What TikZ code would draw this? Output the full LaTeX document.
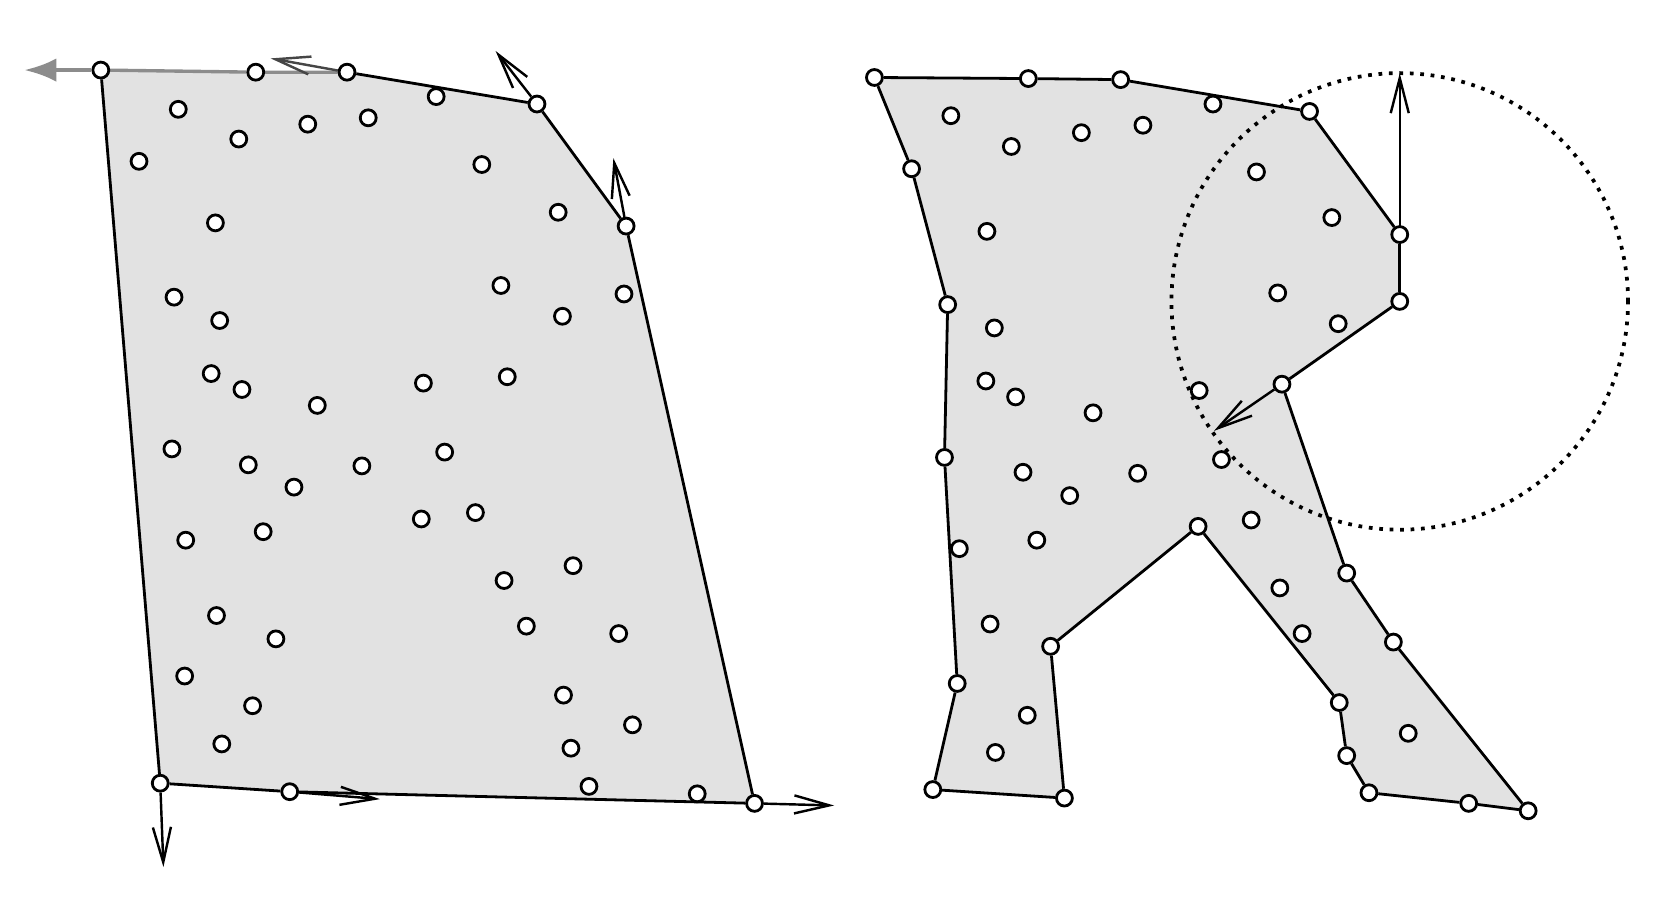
\documentclass[tikz,border=0pt]{standalone}
\usepackage{tikz}
\usetikzlibrary{arrows.meta,backgrounds}
\definecolor{hullgray}{HTML}{E2E2E2}
\definecolor{seekgray}{HTML}{8C8C8C}

\begin{document}
\begin{tikzpicture}[
  x=0.01cm, y=-0.01cm,
  pnt/.style={draw, circle, fill=white, inner sep=0pt, minimum size=0.15cm, line width=0.75pt},
  hull/.style={line width=0.75pt},
  arr/.style={-{Straight Barb[length=3.3mm,width=1.7mm]}, line width=0.65pt},
  seek/.style={seekgray, line width=0.9pt}
]
  \useasboundingbox (0,0) rectangle (1568,847);

  % left: convex hull
  \foreach \x/\y [count=\i] in {95/66,241/68,327/68,506/98,590/213,711/757,273/746,151/738}
    \node[pnt] (h\i) at (\x,\y) {};
  \foreach \x/\y [count=\i] in {168/103,225/131,290/117,347/111,411/91,131/152,454/155,203/210,
      526/200,164/280,207/302,472/269,530/298,588/277,199/352,228/367,299/382,399/361,478/355,
      162/423,234/438,341/439,419/426,277/459,397/489,448/483,175/509,248/501,475/547,540/533,
      204/580,260/602,496/590,583/597,174/637,238/665,531/655,596/683,209/701,538/705,555/741,657/748}
    \node[pnt] (p\i) at (\x,\y) {};

  \coordinate (t1) at (23,66);
  \coordinate (t3) at (255,55);
  \coordinate (t4) at (467,48);
  \coordinate (t5) at (578,149);
  \coordinate (t6) at (786,759);
  \coordinate (t7) at (358,753);
  \coordinate (t8) at (154,817);

  % right: concave hull
  \foreach \x/\y [count=\i] in {824/73,969/74,1056/75,1234/105,1319/221,1319/284,1208/362,
      1269/540,1313/605,1440/764,1384/757,1290/747,1269/712,1262/662,1129/496,990/609,
      1003/752,879/744,902/644,890/431,893/287,859/159}
    \node[pnt] (k\i) at (\x,\y) {};
  \foreach \x/\y [count=\i] in {896/109,953/138,1019/125,1077/118,1143/98,1184/162,1255/205,
      930/218,1204/276,1261/305,937/309,929/359,957/374,1030/389,1130/368,964/445,1072/446,
      1151/433,1008/467,977/509,1179/490,904/517,1206/554,933/588,1227/597,968/674,1327/691,938/709}
    \node[pnt] (q\i) at (\x,\y) {};

  \coordinate (ctop) at (1319,69);
  \coordinate (cside) at (1144,406);

  \begin{scope}[on background layer]
    \fill[hullgray] (h1.center) \foreach \i in {2,...,8} {-- (h\i.center)} -- cycle;
    \fill[hullgray] (k1.center) \foreach \i in {2,...,22} {-- (k\i.center)} -- cycle;

    \draw[seek] (h1) -- (h2) -- (h3);
    \foreach \a/\b in {3/4,4/5,5/6,6/7,7/8,8/1}
      \draw[hull] (h\a) -- (h\b);
    \foreach \a/\b in {1/2,2/3,3/4,4/5,5/6,6/7,7/8,8/9,9/10,10/11,11/12,12/13,13/14,14/15,
        15/16,16/17,17/18,18/19,19/20,20/21,21/22,22/1}
      \draw[hull] (k\a) -- (k\b);

    \draw[seek, line width=1.1pt, -{Latex[length=3mm,width=2.2mm]}] (h1) -- (t1);
    \draw[arr, seekgray!50!black] (h3) -- (t3);
    \draw[arr] (h4) -- (t4);
    \draw[arr] (h5) -- (t5);
    \draw[arr] (h6) -- (t6);
    \draw[arr] (h7) -- (t7);
    \draw[arr] (h8) -- (t8);

    \draw[line width=1pt, dash pattern=on 1pt off 1.8pt] (k6.center) circle[radius=2.15cm];
    \draw[arr] (k6) -- (ctop);
    \draw[arr] (k7) -- (cside);
  \end{scope}
\end{tikzpicture}
\end{document}
